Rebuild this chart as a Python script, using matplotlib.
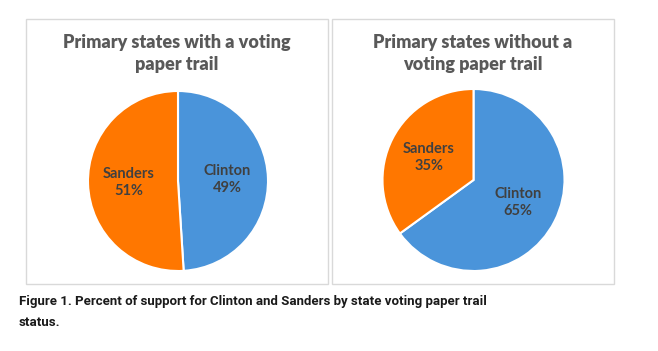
import matplotlib
matplotlib.use("Agg")
import matplotlib.pyplot as plt
from matplotlib.patches import Rectangle

candidates = ["Clinton", "Sanders"]
with_trail = [49, 51]
without_trail = [65, 35]
titles = ["Primary states with a voting\npaper trail",
          "Primary states without a\nvoting paper trail"]
colors = ["#4A94DA", "#FF7700"]
caption = ("Figure 1. Percent of support for Clinton and Sanders by state voting paper trail\n"
           "status.")

W, H = 658, 351
fig = plt.figure(figsize=(W / 100, H / 100), dpi=100)


def px(x0, y0, x1, y1):
    # pixel box (top-left origin) -> figure fraction rect
    return [x0 / W, 1 - y1 / H, (x1 - x0) / W, (y1 - y0) / H]


panels = [(26, 19, 328, 284), (332, 19, 614, 284)]
pies = [(178, 181, 90), (473.5, 180, 91)]
data = [with_trail, without_trail]

for (x0, y0, x1, y1), (cx, cy, r), vals, title in zip(panels, pies, data, titles):
    fig.patches.append(Rectangle((x0 / W, 1 - y1 / H), (x1 - x0) / W, (y1 - y0) / H,
                                 transform=fig.transFigure, fill=False,
                                 edgecolor="#D9D9D9", linewidth=1.0))
    fig.text((x0 + x1) / 2 / W, 1 - 53.5 / H, title, ha="center", va="center",
             fontsize=13, fontweight="heavy", color="#595959", family="Lato",
             linespacing=1.35)
    ax = fig.add_axes(px(cx - r, cy - r, cx + r, cy + r))
    labels = [f"{c}\n{v}%" for c, v in zip(candidates, vals)]
    wedges, texts = ax.pie(vals, labels=labels, colors=colors, startangle=90,
                           counterclock=False, labeldistance=0.55,
                           wedgeprops=dict(edgecolor="white", linewidth=1.5),
                           textprops=dict(fontsize=10.5, fontweight="bold",
                                          color="#404040", family="Lato"))
    for t in texts:
        t.set_ha("center")
        t.set_va("center")
        t.set_linespacing(1.3)
    ax.set_xlim(-1, 1)
    ax.set_ylim(-1, 1)
    ax.set_aspect("equal")

fig.text(19 / W, 1 - 312 / H, caption, ha="left", va="center", fontsize=9.5,
         fontweight="bold", color="#1a1a1a", family="Roboto",
         linespacing=1.7)

fig.savefig("out.png", dpi=100)
